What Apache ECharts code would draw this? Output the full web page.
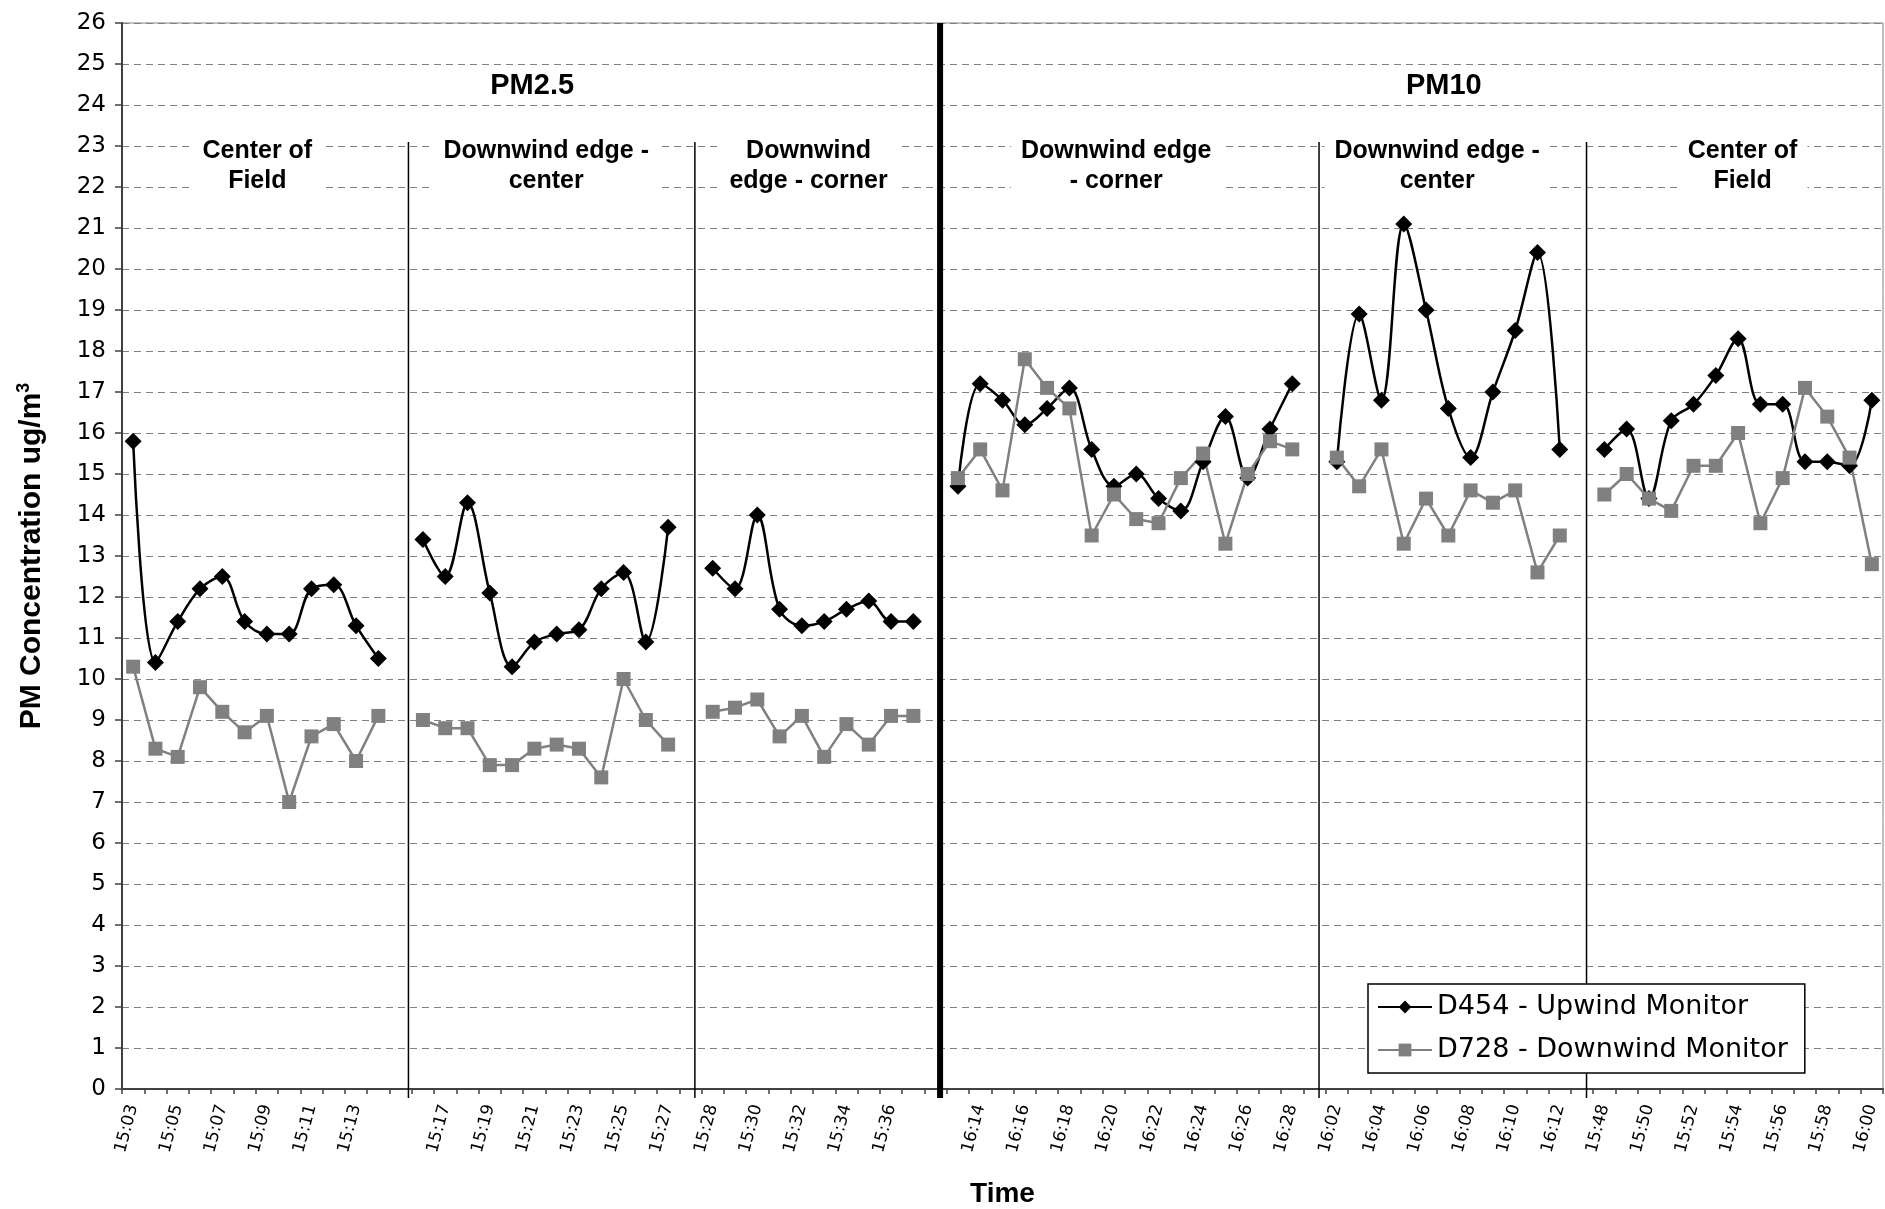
<!DOCTYPE html>
<html>
<head>
<meta charset="utf-8">
<title>PM Concentration</title>
<script src="https://cdn.jsdelivr.net/npm/echarts@6/dist/echarts.min.js"></script>
<style>
  html, body { margin: 0; padding: 0; background: #fff; }
  #chart { width: 1885px; height: 1209px; }
</style>
</head>
<body>
<div id="chart"></div>
<script>
// sampling times of each run, one array per monitoring position
const times1 = ['15:03', '15:04', '15:05', '15:06', '15:07', '15:08', '15:09', '15:10', '15:11', '15:12', '15:13', '15:14'];
const times2 = ['15:16', '15:17', '15:18', '15:19', '15:20', '15:21', '15:22', '15:23', '15:24', '15:25', '15:26', '15:27'];
const times3 = ['15:28', '15:29', '15:30', '15:31', '15:32', '15:33', '15:34', '15:35', '15:36', '15:37'];
const times4 = ['16:13', '16:14', '16:15', '16:16', '16:17', '16:18', '16:19', '16:20', '16:21', '16:22', '16:23', '16:24', '16:25', '16:26', '16:27', '16:28'];
const times5 = ['16:02', '16:03', '16:04', '16:05', '16:06', '16:07', '16:08', '16:09', '16:10', '16:11', '16:12'];
const times6 = ['15:48', '15:49', '15:50', '15:51', '15:52', '15:53', '15:54', '15:55', '15:56', '15:57', '15:58', '15:59', '16:00'];

// D454 - upwind monitor
const upwind1 = [15.8, 10.4, 11.4, 12.2, 12.5, 11.4, 11.1, 11.1, 12.2, 12.3, 11.3, 10.5];
const upwind2 = [13.4, 12.5, 14.3, 12.1, 10.3, 10.9, 11.1, 11.2, 12.2, 12.6, 10.9, 13.7];
const upwind3 = [12.7, 12.2, 14.0, 11.7, 11.3, 11.4, 11.7, 11.9, 11.4, 11.4];
const upwind4 = [14.7, 17.2, 16.8, 16.2, 16.6, 17.1, 15.6, 14.7, 15.0, 14.4, 14.1, 15.3, 16.4, 14.9, 16.1, 17.2];
const upwind5 = [15.3, 18.9, 16.8, 21.1, 19.0, 16.6, 15.4, 17.0, 18.5, 20.4, 15.6];
const upwind6 = [15.6, 16.1, 14.4, 16.3, 16.7, 17.4, 18.3, 16.7, 16.7, 15.3, 15.3, 15.2, 16.8];

// D728 - downwind monitor
const downwind1 = [10.3, 8.3, 8.1, 9.8, 9.2, 8.7, 9.1, 7.0, 8.6, 8.9, 8.0, 9.1];
const downwind2 = [9.0, 8.8, 8.8, 7.9, 7.9, 8.3, 8.4, 8.3, 7.6, 10.0, 9.0, 8.4];
const downwind3 = [9.2, 9.3, 9.5, 8.6, 9.1, 8.1, 8.9, 8.4, 9.1, 9.1];
const downwind4 = [14.9, 15.6, 14.6, 17.8, 17.1, 16.6, 13.5, 14.5, 13.9, 13.8, 14.9, 15.5, 13.3, 15.0, 15.8, 15.6];
const downwind5 = [15.4, 14.7, 15.6, 13.3, 14.4, 13.5, 14.6, 14.3, 14.6, 12.6, 13.5];
const downwind6 = [14.5, 15.0, 14.4, 14.1, 15.2, 15.2, 16.0, 13.8, 14.9, 17.1, 16.4, 15.4, 12.8];

// separators between runs (in category units) and the section labels
const dividerX = [12.35, 25.2, 53.2, 65.2];
const thickDividerX = 36.2;
const groupTitles = [
  {text: 'PM2.5', x: 17.9, y: 24.47},
  {text: 'PM10', x: 58.8, y: 24.47}
];
const blockTitles = [
  {text: 'Center of\nField', x: 5.57},
  {text: 'Downwind edge -\ncenter', x: 18.53},
  {text: 'Downwind\nedge - corner', x: 30.3},
  {text: 'Downwind edge\n- corner', x: 44.1},
  {text: 'Downwind edge -\ncenter', x: 58.5},
  {text: 'Center of\nField', x: 72.2}
];
const blockTitleY = 22.5;

const FONT = '"Liberation Sans", Arial, sans-serif';
const WIDE = '"DejaVu Sans", "Liberation Sans", sans-serif';

// one empty category between runs so the lines break
function joinSegments(parts, gap) {
  const out = [];
  parts.forEach((p, i) => {
    if (i > 0) out.push(gap);
    p.forEach(v => out.push(v));
  });
  return out;
}

const categories = joinSegments([times1, times2, times3, times4, times5, times6], '');
const upwind = joinSegments([upwind1, upwind2, upwind3, upwind4, upwind5, upwind6], null);
const downwind = joinSegments([downwind1, downwind2, downwind3, downwind4, downwind5, downwind6], null);

const chart = echarts.init(document.getElementById('chart'), null, {renderer: 'canvas'});

const option = {
  animation: false,
  backgroundColor: '#fff',
  textStyle: {fontFamily: FONT},
  grid: {
    left: 122, right: 2, top: 23, bottom: 120,
    outerBoundsMode: 'none',
    containLabel: false,
    show: true, borderColor: '#808080', borderWidth: 1
  },
  legend: {
    orient: 'vertical',
    left: 1368,
    top: 984,
    padding: [8, 17, 8, 9],
    itemWidth: 54,
    itemHeight: 16,
    itemGap: 13,
    backgroundColor: '#fff',
    borderColor: '#000',
    borderWidth: 1.5,
    borderRadius: 0,
    data: ['D454 - Upwind Monitor', 'D728 - Downwind Monitor'],
    textStyle: {fontSize: 27, color: '#000', fontFamily: WIDE, lineHeight: 30}
  },
  xAxis: [
    {
      type: 'category',
      data: categories,
      boundaryGap: true,
      name: 'Time',
      nameLocation: 'middle',
      nameGap: 91,
      nameTextStyle: {fontSize: 28, fontWeight: 'bold', color: '#000', fontFamily: FONT},
      axisLine: {onZero: false, lineStyle: {color: '#404040', width: 2}},
      axisTick: {show: true, interval: 0, length: 5, lineStyle: {color: '#404040', width: 1.5}},
      axisLabel: {interval: 1, rotate: 75, margin: 16, fontSize: 17, color: '#000', fontFamily: WIDE},
      splitLine: {show: false}
    },
    {
      // helper axis in category units, used to place separators and section labels
      type: 'value',
      min: -0.5,
      max: 78.5,
      show: false
    }
  ],
  yAxis: {
    type: 'value',
    min: 0,
    max: 26,
    interval: 1,
    name: 'PM Concentration ug/m{sup|3}',
    nameLocation: 'middle',
    nameGap: 74,
    nameTextStyle: {
      fontSize: 30, fontWeight: 'bold', color: '#000', fontFamily: FONT,
      rich: {sup: {fontSize: 18, fontWeight: 'bold', color: '#000', fontFamily: FONT, padding: [0, 0, 15, 0]}}
    },
    axisLine: {show: true, onZero: false, lineStyle: {color: '#404040', width: 2}},
    axisTick: {show: true, length: 7, lineStyle: {color: '#404040', width: 1.5}},
    axisLabel: {fontSize: 23, color: '#000', margin: 16, fontFamily: WIDE},
    splitLine: {show: true, lineStyle: {color: '#808080', width: 1, type: [7, 5]}}
  },
  series: [
    {
      name: 'D454 - Upwind Monitor',
      type: 'line',
      data: upwind,
      smooth: 0.35,
      connectNulls: false,
      showAllSymbol: true,
      symbol: 'diamond',
      symbolSize: 17,
      itemStyle: {color: '#000'},
      lineStyle: {color: '#000', width: 2.5}
    },
    {
      name: 'D728 - Downwind Monitor',
      type: 'line',
      data: downwind,
      smooth: false,
      connectNulls: false,
      showAllSymbol: true,
      symbol: 'rect',
      symbolSize: 14,
      itemStyle: {color: '#808080'},
      lineStyle: {color: '#808080', width: 2.5}
    }
  ]
};

chart.setOption(option);

// separators and section labels, placed in data units on the helper axis
function toPixel(x, y) {
  return chart.convertToPixel({xAxisIndex: 1, yAxisIndex: 0}, [x, y]);
}
function separator(x, top, width) {
  const a = toPixel(x, top);
  const b = toPixel(x, -0.22);
  return {
    type: 'line', z: 3, silent: true,
    shape: {x1: a[0], y1: a[1], x2: b[0], y2: b[1]},
    style: {stroke: '#000', lineWidth: width}
  };
}
const elements = [];
dividerX.forEach(x => elements.push(separator(x, 23.1, 1.5)));
elements.push(separator(thickDividerX, 26, 6));

groupTitles.forEach(t => {
  const p = toPixel(t.x, t.y);
  elements.push({
    type: 'text', x: p[0], y: p[1], z: 100,
    style: {
      text: t.text, align: 'center', verticalAlign: 'middle',
      fontSize: 29, fontWeight: 'bold', fontFamily: FONT, fill: '#000'
    }
  });
});
blockTitles.forEach(t => {
  const p = toPixel(t.x, blockTitleY);
  elements.push({
    type: 'text', x: p[0], y: p[1], z: 100,
    style: {
      text: t.text, align: 'center', verticalAlign: 'middle',
      fontSize: 25, fontWeight: 'bold', fontFamily: FONT, fill: '#000',
      lineHeight: 30, backgroundColor: '#fff', padding: [4, 10]
    }
  });
});
chart.setOption({graphic: elements});
</script>
</body>
</html>
